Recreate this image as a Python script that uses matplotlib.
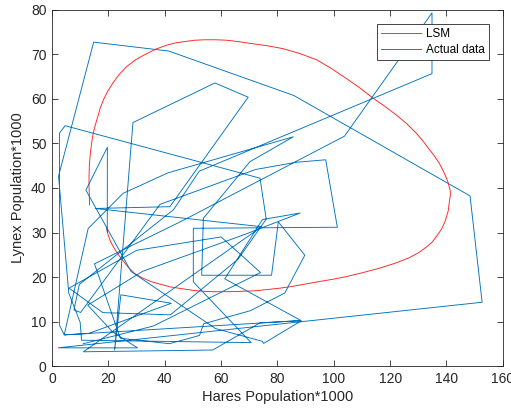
import matplotlib
matplotlib.use('Agg')
import matplotlib.pyplot as plt

plt.rcParams['font.family'] = ['Liberation Sans', 'DejaVu Sans']

# Hudson Bay pelt records (thousands), year by year from 1845
hares = [19.58, 19.60, 19.61, 11.99, 28.04, 58.00, 74.60, 75.09, 88.48, 61.28,
         74.67, 88.06, 68.51, 32.19, 12.64, 21.49, 30.35, 2.18, 152.65, 148.36,
         85.81, 41.41, 14.75, 2.28, 5.91, 9.95, 10.44, 70.64, 50.12, 50.13,
         101.25, 97.12, 86.51, 72.17, 38.32, 10.11, 7.74, 9.67, 43.12, 52.21,
         134.85, 134.86, 103.79, 46.10, 15.03, 24.20, 41.65, 52.34, 53.78, 70.40,
         82.6, 89.7, 80.3, 77.9, 53.1, 53.7, 70.2, 85.6, 41.1, 25.2,
         12.8, 4.3, 12.9, 42.3, 24.4, 22.2, 28.7, 57.8, 69.6, 41.8,
         15.3, 74.4, 11.1, 57.0, 73.8, 88.0, 4.3, 2.6, 2.6, 4.6,
         73.8, 76.0, 66.0, 42.0, 18.0, 6.0, 30.0, 60.0, 74.0, 36.0, 11.0]
lynx = [30.09, 45.15, 49.15, 39.52, 21.23, 8.42, 5.56, 5.08, 10.17, 19.60,
        32.91, 34.38, 29.59, 21.30, 13.69, 7.65, 4.08, 4.09, 14.33, 38.22,
        60.78, 70.77, 72.77, 42.68, 16.39, 9.83, 5.80, 5.26, 18.91, 30.95,
        31.18, 46.34, 45.77, 44.15, 36.33, 12.03, 12.60, 18.34, 35.14, 43.77,
        65.69, 79.35, 51.65, 32.59, 22.97, 6.25, 5.02, 6.87, 9.49, 12.44,
        16.4, 24.9, 32.4, 20.4, 20.4, 33.2, 45.9, 51.5, 43.4, 38.8,
        30.9, 7.0, 7.3, 14.1, 16.0, 3.6, 54.7, 63.6, 60.4, 35.8,
        35.4, 31.3, 3.2, 3.6, 9.7, 10.2, 7.0, 9.2, 52.3, 54.0,
        42.2, 33.0, 24.0, 11.5, 12.0, 17.5, 26.0, 29.0, 21.0, 9.0, 5.0]

# fitted Lotka-Volterra trajectory (least squares)
lsm_hares = [19.3, 19.9, 20.8, 22.0, 23.4, 25.0, 27.0, 29.3, 32.0, 35.0,
             38.3, 41.8, 45.8, 50.0, 53.5, 57.0, 60.0, 63.1, 67.5, 72.0,
             76.5, 80.9, 84.4, 87.9, 91.5, 95.0, 99.7, 104.5, 110.4, 116.3,
             121.8, 127.0, 130.2, 133.0, 135.0, 136.4, 138.2, 139.5, 140.6, 141.1,
             141.4, 141.3, 140.5, 139.2, 137.5, 135.6, 133.5, 131.5, 129.3, 125.8,
             122.0, 118.0, 113.9, 109.0, 104.0, 99.0, 93.9, 88.0, 82.0, 76.0,
             70.2, 66.0, 62.0, 58.2, 54.3, 50.6, 47.0, 43.8, 40.7, 36.8,
             33.0, 29.6, 26.5, 23.8, 21.5, 19.7, 18.2, 17.1, 16.2, 15.3,
             14.6, 14.1, 13.7, 13.4, 13.2, 13.1, 13.1, 13.2, 13.3]
lsm_lynx = [31.0, 29.4, 27.9, 26.5, 25.1, 23.8, 22.2, 20.8, 19.8, 19.0,
            18.4, 17.8, 17.4, 17.0, 16.8, 16.7, 16.7, 16.7, 16.8, 16.9,
            17.2, 17.5, 17.8, 18.2, 18.6, 19.0, 19.5, 20.1, 21.0, 22.0,
            23.1, 24.4, 25.5, 26.8, 27.9, 29.1, 30.7, 32.5, 34.8, 37.3,
            38.4, 39.5, 41.4, 43.4, 45.5, 47.3, 49.0, 50.7, 52.3, 54.5,
            56.5, 58.4, 60.2, 62.6, 64.8, 66.9, 68.8, 70.2, 71.3, 72.0,
            72.5, 72.9, 73.2, 73.3, 73.3, 73.2, 72.9, 72.6, 72.1, 71.2,
            70.0, 68.8, 67.3, 65.5, 63.5, 61.7, 59.8, 58.0, 56.0, 54.1,
            52.3, 50.4, 48.5, 46.6, 44.8, 42.6, 40.5, 38.3, 36.2]

fig = plt.figure(figsize=(5.11, 4.15), dpi=100)
ax = fig.add_axes([0.102, 0.118, 0.882, 0.858])

ax.plot(lsm_hares, lsm_lynx, color='#ff2020', lw=0.65, label='LSM')
ax.plot(hares, lynx, color='#0072bd', lw=0.65, label='Actual data')

ax.set_xlim(0, 160)
ax.set_ylim(0, 80)
ax.set_xticks(range(0, 161, 20))
ax.set_yticks(range(0, 81, 10))

grey = '#262626'
for s in ax.spines.values():
    s.set_color(grey)
    s.set_linewidth(0.6)
ax.tick_params(direction='in', length=4, width=0.6, color=grey,
               labelcolor=grey, labelsize=10, top=True, right=True, pad=4)

ax.set_xlabel('Hares Population*1000', fontsize=10.5, color=grey, labelpad=3)
ax.set_ylabel('Lynex Population*1000', fontsize=10.5, color=grey, labelpad=4)

leg = ax.legend(loc='upper right', fontsize=8.5, handlelength=3.4,
                fancybox=False, framealpha=1, edgecolor=grey,
                borderaxespad=1.2, handletextpad=0.4, borderpad=0.35,
                labelspacing=0.3)
leg.get_frame().set_linewidth(0.6)

fig.savefig('out.png', dpi=100)
